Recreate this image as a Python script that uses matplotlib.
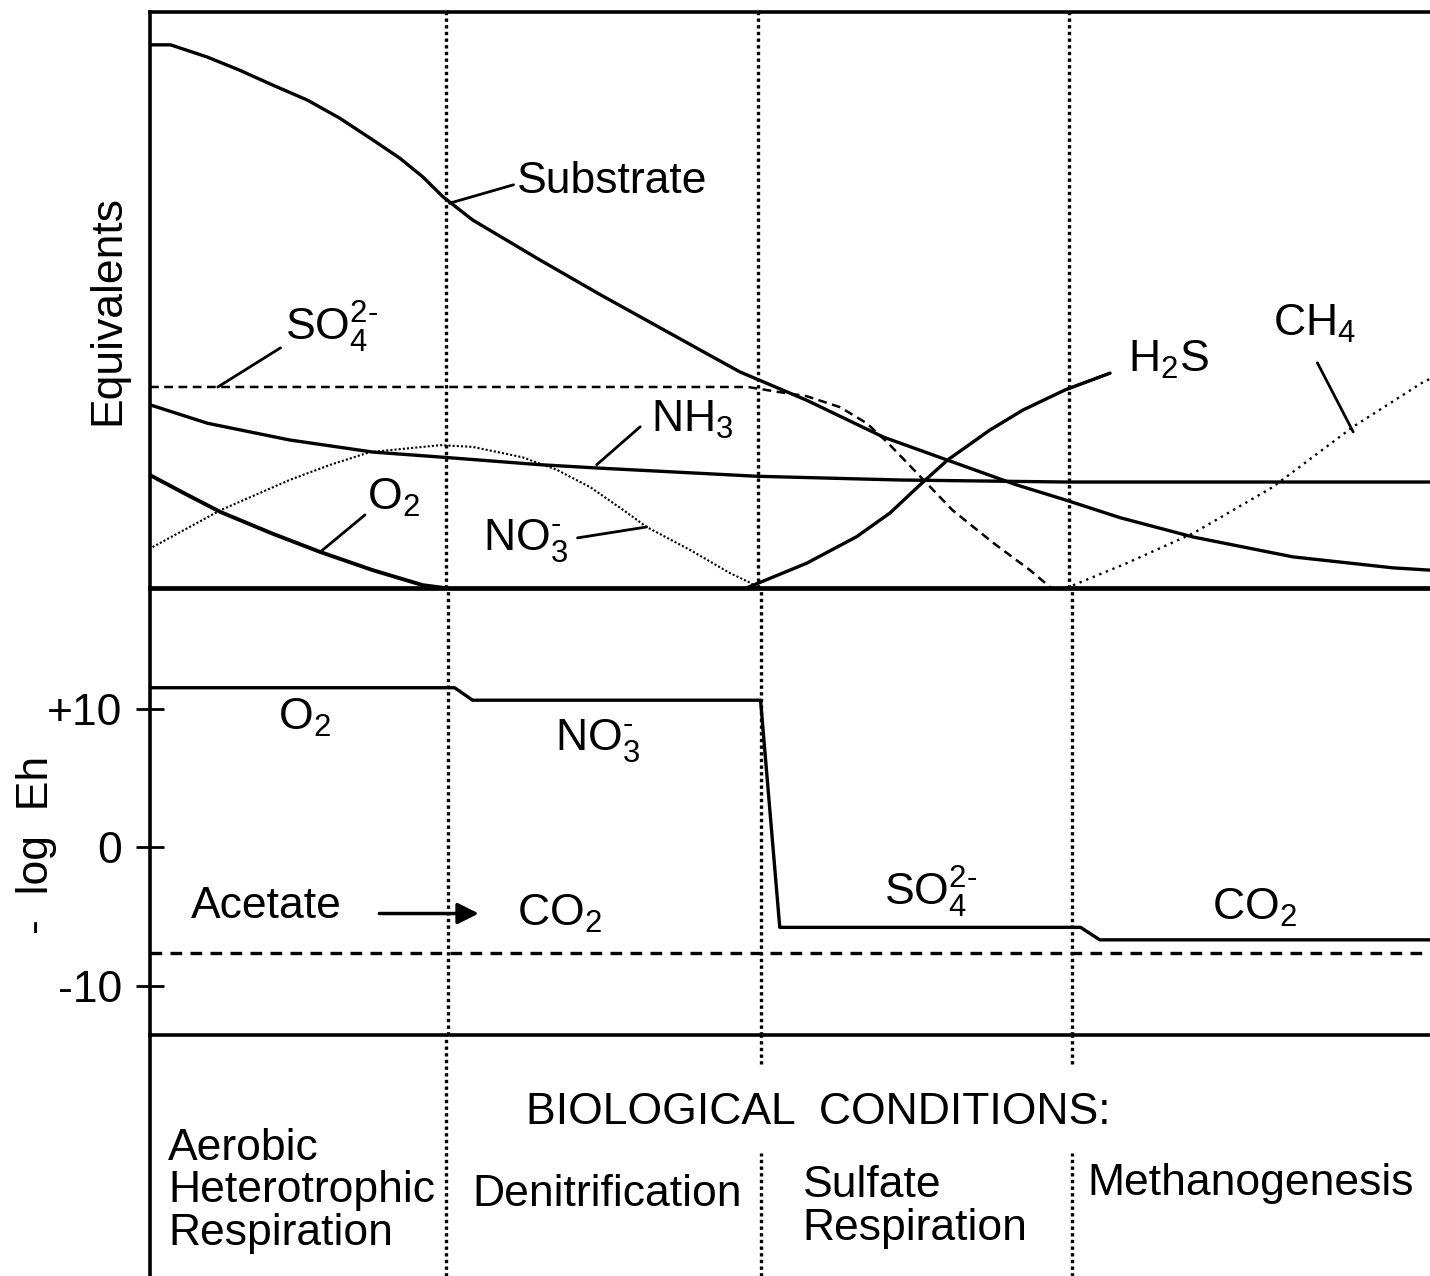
import matplotlib.pyplot as plt

plt.rcParams["font.family"] = ["Liberation Sans", "DejaVu Sans"]
plt.rcParams["mathtext.fontset"] = "custom"
plt.rcParams["mathtext.rm"] = "Liberation Sans"
plt.rcParams["mathtext.it"] = "Liberation Sans:italic"
plt.rcParams["mathtext.bf"] = "Liberation Sans:bold"
plt.rcParams["lines.solid_joinstyle"] = "round"
plt.rcParams["lines.solid_capstyle"] = "round"

# boundaries between the four biological zones (x runs 0-100)
zone_edges = [23.1, 47.5, 71.8]

# --- upper panel: equivalents (arbitrary units, 0-100) ---
substrate_x = [0, 1.6, 4.45, 7.0, 9.6, 12.3, 14.8, 17.4, 19.5, 21.3, 22.9, 25.2,
               30.5, 35.2, 43.0, 46.1, 51.3, 57.3, 62.3, 67.7, 71.5, 75.8, 81.5,
               89.3, 97.1, 100]
substrate_y = [94.3, 94.3, 92.2, 89.9, 87.3, 84.7, 81.6, 77.8, 74.65, 71.4, 67.9, 63.9,
               56.9, 50.9, 41.3, 37.5, 32.6, 26.2, 22.2, 17.9, 15.3, 12.2, 8.85,
               5.4, 3.5, 3.1]

so4_x = [0, 46.7, 49.2, 51.3, 53.9, 56.0, 57.6, 59.9, 62.7, 65.9, 68.75, 70.4]
so4_y = [34.9, 34.9, 34.0, 33.3, 31.4, 28.6, 25.3, 20.0, 13.5, 7.8, 3.1, 0]

nh3_x = [0, 4.5, 10.9, 17.4, 22.9, 30.5, 35.2, 47.4, 58.6, 71.6, 100]
nh3_y = [31.8, 28.6, 25.7, 23.6, 22.7, 21.4, 20.8, 19.4, 18.75, 18.4, 18.4]

o2_x = [0, 2.8, 5.5, 9.5, 13.3, 17.4, 21.3, 23.0]
o2_y = [19.6, 16.3, 13.2, 9.5, 6.25, 3.1, 0.5, 0]

no3_x = [0.2, 5.5, 10.9, 14.1, 17.2, 22.7, 25.2, 29.1, 31.8, 34.4, 37.0, 38.8,
         42.2, 45.3, 46.9, 47.4]
no3_y = [7.1, 13.5, 18.75, 21.4, 23.6, 24.8, 24.5, 22.7, 20.5, 17.5, 13.5, 10.6,
         6.6, 2.6, 0.9, 0]

h2s_x = [46.6, 51.3, 55.2, 57.8, 60.3, 62.3, 65.6, 68.2, 71.5, 75.0]
h2s_y = [0, 4.3, 8.9, 13.0, 18.2, 22.2, 27.4, 30.9, 34.4, 37.3]

ch4_x = [71.6, 76.3, 81.5, 87.7, 94.0, 99.5, 100]
ch4_y = [0, 4.3, 9.5, 17.5, 28.0, 35.8, 36.3]

# --- lower panel: -log Eh of the electron acceptor ---
eh_x = [0, 23.8, 25.2, 47.7, 49.2, 72.7, 74.2, 100]
eh_y = [11.5, 11.5, 10.6, 10.6, -5.8, -5.8, -6.7, -6.7]
acetate_eh = -7.65
eh_ticks = [10, 0, -10]
eh_ticklabels = ["+10", "0", "-10"]

zone_names = ["Aerobic\nHeterotrophic\nRespiration", "Denitrification",
              "Sulfate\nRespiration", "Methanogenesis"]

FS = 32
LW = 2.4
dotted = (0, (1.0, 1.0))

fig = plt.figure(figsize=(14.3, 12.76), dpi=100, facecolor="white")
L, W = 150 / 1430, 1280 / 1430
ax_top = fig.add_axes([L, 1 - 588 / 1276, W, 576 / 1276])
ax_mid = fig.add_axes([L, 1 - 1035 / 1276, W, 447 / 1276])
ax_bot = fig.add_axes([L, 0, W, 1 - 1035 / 1276])

for ax in (ax_top, ax_mid, ax_bot):
    ax.set_facecolor("none")
    ax.set_xlim(0, 100)
    ax.set_xticks([])
    ax.spines["right"].set_visible(False)
    for s in ax.spines.values():
        s.set_linewidth(2.6)

# upper panel
ax_top.set_ylim(0, 100)
ax_top.set_yticks([])
ax_top.spines["bottom"].set_linewidth(3.4)
for x in zone_edges:
    ax_top.axvline(x, color="black", lw=2.4, ls=dotted)
ax_top.plot(substrate_x, substrate_y, color="black", lw=LW)
ax_top.plot(so4_x, so4_y, color="black", lw=1.8, ls=(0, (3.5, 2.2)))
ax_top.plot(nh3_x, nh3_y, color="black", lw=LW)
ax_top.plot(o2_x, o2_y, color="black", lw=LW + 0.4)
ax_top.plot(no3_x, no3_y, color="black", lw=1.5, ls=(0, (1, 1)))
ax_top.plot(h2s_x, h2s_y, color="black", lw=LW)
ax_top.plot(ch4_x, ch4_y, color="black", lw=1.7, ls=(0, (1, 2)))

# labels with leader lines
leaders = [
    ("Substrate", (36.1, 70.5), (23.4, 66.8), (28.4, 70.0)),
    (r"SO$_4^{2\text{-}}$", (14.2, 45.3), (5.3, 34.9), (10.2, 41.7)),
    (r"NH$_3$", (42.4, 29.2), (34.9, 21.4), (38.3, 28.0)),
    (r"O$_2$", (19.0, 15.6), (13.3, 6.25), (16.8, 12.7)),
    (r"NO$_3^{\text{-}}$", (29.3, 8.0), (33.4, 8.7), (38.8, 10.6)),
    (r"H$_2$S", (79.6, 39.6), (71.5, 34.4), (75.0, 37.3)),
    (r"CH$_4$", (91.0, 45.8), (91.2, 39.1), (94.0, 27.1)),
]
for text, pos, p0, p1 in leaders:
    ax_top.text(pos[0], pos[1], text, fontsize=FS, ha="center", va="center")
    ax_top.plot([p0[0], p1[0]], [p0[1], p1[1]], color="black", lw=2)

ax_top.text(-0.033, 0.483, "Equivalents", transform=ax_top.transAxes,
            rotation=90, fontsize=FS, ha="center", va="center")

# lower panel
ax_mid.set_ylim(-13.57, 18.70)
ax_mid.spines["top"].set_visible(False)
ax_mid.set_yticks(eh_ticks)
ax_mid.set_yticklabels(eh_ticklabels, fontsize=FS)
ax_mid.tick_params(axis="y", direction="inout", length=20, width=2, pad=10)
for x in zone_edges:
    ax_mid.axvline(x + 0.2, color="black", lw=2.4, ls=dotted)
ax_mid.plot(eh_x, eh_y, color="black", lw=LW)
ax_mid.axhline(acetate_eh, color="black", lw=2.4, ls=(0, (3.5, 2.5)))

ax_mid.text(12.1, 9.3, r"O$_2$", fontsize=FS, ha="center", va="center")
ax_mid.text(35.0, 7.6, r"NO$_3^{\text{-}}$", fontsize=FS, ha="center", va="center")
ax_mid.text(61.0, -3.3, r"SO$_4^{2\text{-}}$", fontsize=FS, ha="center", va="center")
ax_mid.text(86.3, -4.4, r"CO$_2$", fontsize=FS, ha="center", va="center")
ax_mid.text(9.1, -4.3, "Acetate", fontsize=FS, ha="center", va="center")
ax_mid.text(32.0, -4.8, r"CO$_2$", fontsize=FS, ha="center", va="center")
ax_mid.annotate("", xy=(25.9, -4.8), xytext=(17.7, -4.8),
                arrowprops=dict(arrowstyle="-|>", lw=2.5, color="black",
                                mutation_scale=32))
ax_mid.text(-0.089, 0.425, "-  log  Eh", transform=ax_mid.transAxes,
            rotation=90, fontsize=FS, ha="center", va="center")

# biological conditions
ax_bot.set_ylim(0, 1)
ax_bot.set_yticks([])
ax_bot.spines["top"].set_visible(False)
ax_bot.spines["bottom"].set_visible(False)
ax_bot.vlines(zone_edges[0], 0, 1, color="black", lw=2.4, ls=dotted)
for x in zone_edges[1:]:
    ax_bot.vlines(x + 0.2, 0.88, 1, color="black", lw=2.4, ls=dotted)
    ax_bot.vlines(x + 0.2, 0, 0.51, color="black", lw=2.4, ls=dotted)

ax_bot.text(52.2, 0.68, "BIOLOGICAL  CONDITIONS:", fontsize=FS,
            ha="center", va="center")
name_pos = [(1.4, 0.615), (25.2, 0.425), (51.0, 0.46), (73.2, 0.47)]
for name, (x, y) in zip(zone_names, name_pos):
    ax_bot.text(x, y, name, fontsize=FS, ha="left", va="top", linespacing=1.05)

fig.savefig("out.png", dpi=100)
